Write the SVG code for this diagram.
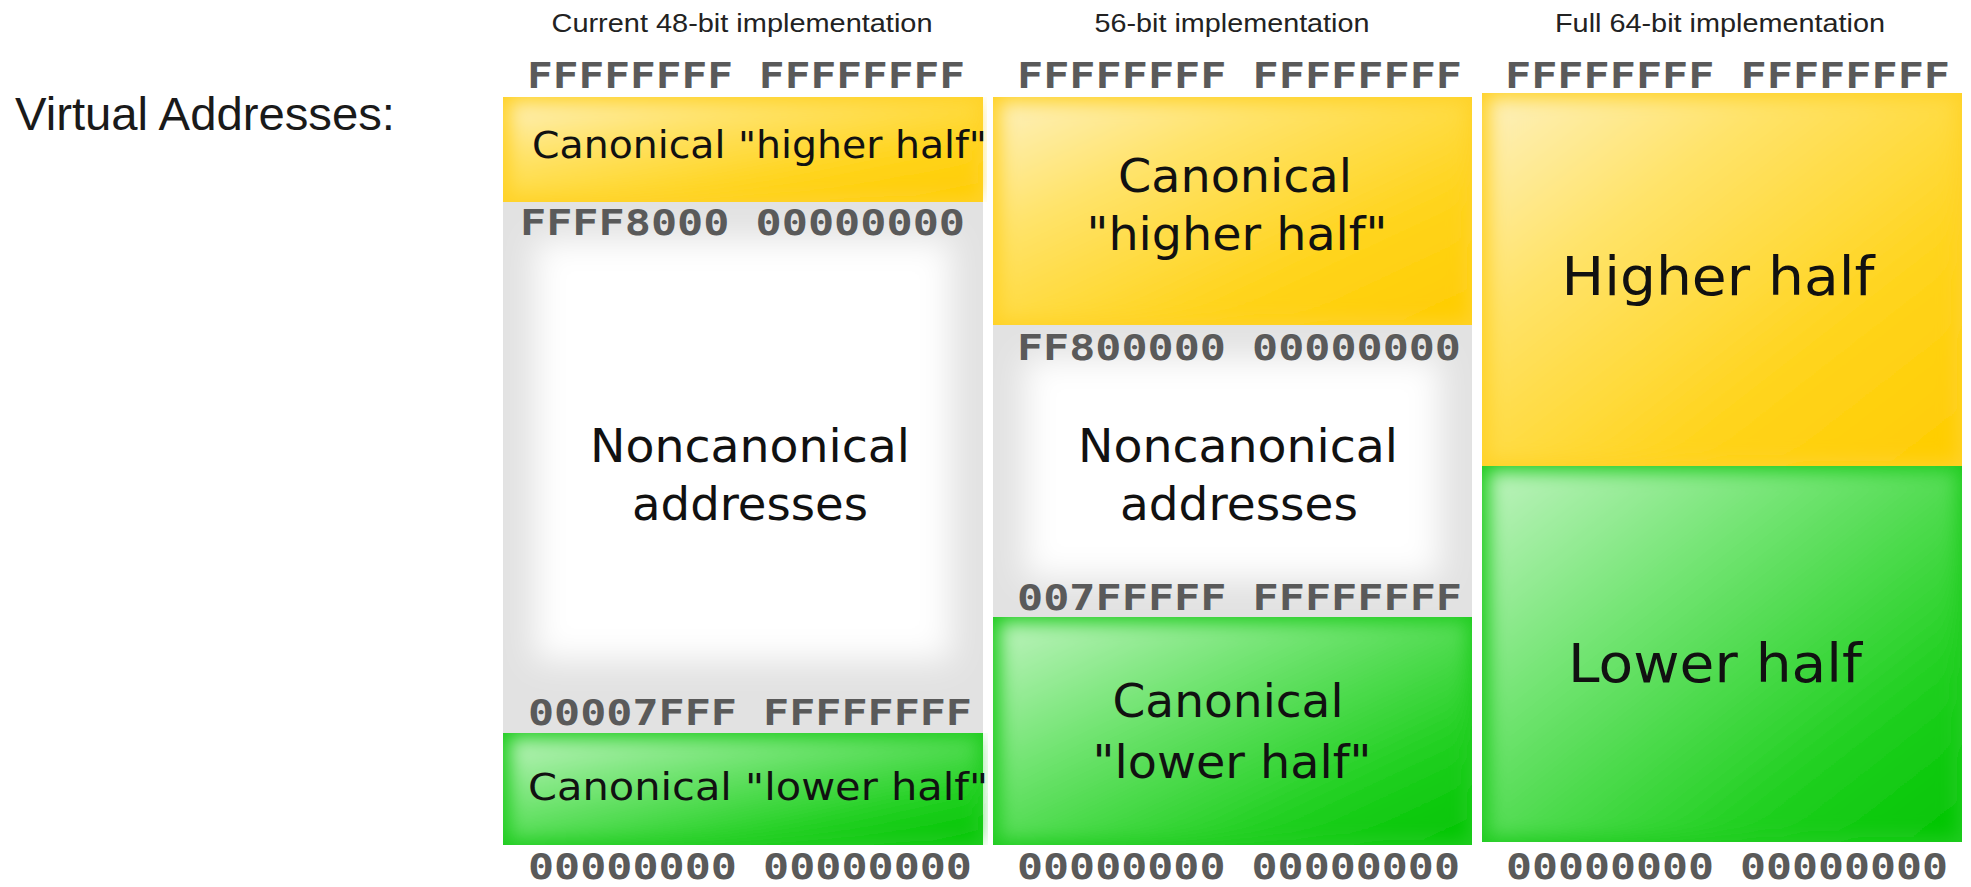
<svg xmlns="http://www.w3.org/2000/svg" width="1971" height="887" viewBox="0 0 1971 887">
<style>
.title{font-family:"Liberation Sans",Arial,sans-serif;font-size:26.5px;fill:#222;text-anchor:middle}
.addr{font-family:"DejaVu Sans Mono","Liberation Mono",monospace;font-weight:bold;font-size:35px;fill:#5a5a5a}
.lbl{font-family:"DejaVu Sans","Noto Sans",sans-serif;font-size:46px;fill:#111;text-anchor:middle}
.lbls{font-family:"DejaVu Sans","Noto Sans",sans-serif;font-size:37px;fill:#111}
.big{font-family:"DejaVu Sans","Noto Sans",sans-serif;font-size:53px;fill:#111;text-anchor:middle}
.side{font-family:"Liberation Sans",Arial,sans-serif;font-size:47px;fill:#1a1a1a}
</style>
<defs>
<filter id="soft" x="-20%" y="-20%" width="140%" height="140%"><feGaussianBlur stdDeviation="9"/></filter>
<filter id="softer" x="-20%" y="-20%" width="140%" height="140%"><feGaussianBlur stdDeviation="16"/></filter>
<clipPath id="bb" clipPathUnits="objectBoundingBox"><rect x="0" y="0" width="1" height="1"/></clipPath>
<linearGradient id="yel" x1="0" y1="0" x2="1" y2="1">
<stop offset="0" stop-color="#fdf0bc"/>
<stop offset="0.3" stop-color="#ffe36a"/>
<stop offset="0.7" stop-color="#ffd41c"/>
<stop offset="1" stop-color="#ffcc00"/>
</linearGradient>
<linearGradient id="grn" x1="0" y1="0" x2="1" y2="1">
<stop offset="0" stop-color="#bdf3bd"/>
<stop offset="0.35" stop-color="#72e472"/>
<stop offset="0.75" stop-color="#22d022"/>
<stop offset="1" stop-color="#00c400"/>
</linearGradient>
</defs>
<rect width="1971" height="887" fill="#ffffff"/>

<g id="side-label"><text class="side" x="15" y="130" textLength="380" lengthAdjust="spacingAndGlyphs">Virtual Addresses:</text></g>

<g id="col48">
<text class="title" x="742" y="32" textLength="381" lengthAdjust="spacingAndGlyphs">Current 48-bit implementation</text>
<g id="col48-noncanon" clip-path="url(#bb)">
<rect x="503" y="202" width="480" height="531" fill="#e2e2e2"/>
<rect x="535" y="240" width="416" height="420" fill="#ffffff" filter="url(#softer)"/>
</g>
<g id="col48-higher" clip-path="url(#bb)">
<rect x="503" y="97" width="480" height="105" fill="#ffd227"/>
<rect x="510" y="102" width="468" height="94" fill="url(#yel)" filter="url(#soft)"/>
<text class="lbls" x="532" y="158" textLength="455" lengthAdjust="spacingAndGlyphs">Canonical "higher half"</text>
</g>
<g id="col48-lower" clip-path="url(#bb)">
<rect x="503" y="733" width="480" height="112" fill="#20cc20"/>
<rect x="510" y="738" width="468" height="102" fill="url(#grn)" filter="url(#soft)"/>
<text class="lbls" x="528" y="800" textLength="460" lengthAdjust="spacingAndGlyphs">Canonical "lower half"</text>
</g>
<text class="addr" x="527" y="88" textLength="438" lengthAdjust="spacingAndGlyphs">FFFFFFFF FFFFFFFF</text>
<text class="addr" x="520" y="235" textLength="445" lengthAdjust="spacingAndGlyphs">FFFF8000 00000000</text>
<text class="lbl" x="750" y="462" textLength="320" lengthAdjust="spacingAndGlyphs">Noncanonical</text>
<text class="lbl" x="750" y="520" textLength="236" lengthAdjust="spacingAndGlyphs">addresses</text>
<text class="addr" x="528" y="725" textLength="444" lengthAdjust="spacingAndGlyphs">00007FFF FFFFFFFF</text>
<text class="addr" x="528" y="879" textLength="444" lengthAdjust="spacingAndGlyphs">00000000 00000000</text>
</g>

<g id="col56">
<text class="title" x="1232" y="32" textLength="275" lengthAdjust="spacingAndGlyphs">56-bit implementation</text>
<g id="col56-noncanon" clip-path="url(#bb)">
<rect x="993" y="325" width="479" height="292" fill="#e2e2e2"/>
<rect x="1025" y="358" width="415" height="220" fill="#ffffff" filter="url(#softer)"/>
</g>
<g id="col56-higher" clip-path="url(#bb)">
<rect x="993" y="97" width="479" height="228" fill="#ffd227"/>
<rect x="1000" y="102" width="467" height="218" fill="url(#yel)" filter="url(#soft)"/>
</g>
<g id="col56-lower" clip-path="url(#bb)">
<rect x="993" y="617" width="479" height="228" fill="#20cc20"/>
<rect x="1000" y="622" width="467" height="218" fill="url(#grn)" filter="url(#soft)"/>
</g>
<text class="addr" x="1017" y="88" textLength="445" lengthAdjust="spacingAndGlyphs">FFFFFFFF FFFFFFFF</text>
<text class="lbl" x="1235" y="192" textLength="234" lengthAdjust="spacingAndGlyphs">Canonical</text>
<text class="lbl" x="1237" y="250" textLength="301" lengthAdjust="spacingAndGlyphs">"higher half"</text>
<text class="addr" x="1017" y="360" textLength="444" lengthAdjust="spacingAndGlyphs">FF800000 00000000</text>
<text class="lbl" x="1238" y="462" textLength="320" lengthAdjust="spacingAndGlyphs">Noncanonical</text>
<text class="lbl" x="1239" y="520" textLength="238" lengthAdjust="spacingAndGlyphs">addresses</text>
<text class="addr" x="1017" y="610" textLength="445" lengthAdjust="spacingAndGlyphs">007FFFFF FFFFFFFF</text>
<text class="lbl" x="1228" y="717" textLength="231" lengthAdjust="spacingAndGlyphs">Canonical</text>
<text class="lbl" x="1232" y="778" textLength="279" lengthAdjust="spacingAndGlyphs">"lower half"</text>
<text class="addr" x="1017" y="879" textLength="443" lengthAdjust="spacingAndGlyphs">00000000 00000000</text>
</g>

<g id="col64">
<text class="title" x="1720" y="32" textLength="330" lengthAdjust="spacingAndGlyphs">Full 64-bit implementation</text>
<g id="col64-higher" clip-path="url(#bb)">
<rect x="1482" y="93" width="480" height="373" fill="#ffd227"/>
<rect x="1489" y="98" width="468" height="363" fill="url(#yel)" filter="url(#soft)"/>
</g>
<g id="col64-lower" clip-path="url(#bb)">
<rect x="1482" y="466" width="480" height="376" fill="#20cc20"/>
<rect x="1489" y="471" width="468" height="366" fill="url(#grn)" filter="url(#soft)"/>
</g>
<text class="addr" x="1505" y="88" textLength="445" lengthAdjust="spacingAndGlyphs">FFFFFFFF FFFFFFFF</text>
<text class="big" x="1718" y="295" textLength="313" lengthAdjust="spacingAndGlyphs">Higher half</text>
<text class="big" x="1715" y="682" textLength="294" lengthAdjust="spacingAndGlyphs">Lower half</text>
<text class="addr" x="1506" y="879" textLength="442" lengthAdjust="spacingAndGlyphs">00000000 00000000</text>
</g>

<g id="connectors"/>
</svg>
